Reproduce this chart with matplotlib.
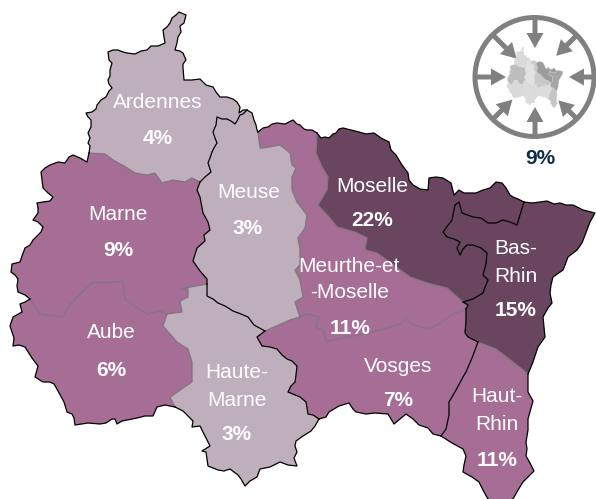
import numpy as np
import matplotlib
matplotlib.use('Agg')
import matplotlib.pyplot as plt
from matplotlib.patches import Polygon, Circle, FancyArrow

plt.rcParams['font.family'] = ['Liberation Sans', 'DejaVu Sans']

# map boundaries in pixels (x, y)
ard_north = [(89,153),(90,146),(88,143),(90,138),(88,133),(91,127),(91,120),(88,117),(86,113),(92,112),(96,109),(97,105),(101,100),(106,97),(109,91),(112,88),(109,84),(108,80),(110,76),(110,70),(112,63),(109,60),(108,52),(113,50),(118,50),(123,52),(127,53),(135,54),(141,51),(147,50),(151,46),(158,46),(165,43),(164,37),(163,30),(167,27),(170,23),(172,18),(176,15),(179,12),(186,15),(185,19),(184,23),(180,26),(181,32),(178,37),(177,43),(175,50),(180,51),(183,53),(186,60),(183,64),(183,68),(184,80),(192,80),(200,79),(206,85),(213,87),(216,92),(220,97),(227,97),(233,99),(237,102),(240,107),(239,113),(243,110),(247,110)]
ard_meuse = [(247,110),(243,114),(240,115),(237,121),(235,124),(231,121),(227,119),(222,119),(217,117),(216,125),(213,132),(215,138),(217,143),(214,148),(212,152),(210,158),(208,163),(211,172),(205,177),(200,182)]
meuse_north = [(247,110),(252,113),(254,120),(256,125),(257,130),(258,132)]
ard_marne = [(200,182),(192,178),(185,182),(173,180),(162,183),(155,173),(147,175),(135,173),(124,166),(113,160),(105,154),(89,153)]
marne_west = [(89,153),(87,162),(80,158),(73,155),(69,157),(65,163),(58,162),(50,165),(45,168),(41,172),(42,180),(43,188),(48,193),(53,197),(50,201),(43,202),(37,203),(38,208),(38,213),(33,220),(38,222),(43,227),(41,232),(33,240),(30,245),(25,248),(22,256),(20,262),(12,264),(11,272),(15,275),(18,279),(17,286),(18,292),(25,295),(30,299)]
marne_aube = [(30,299),(40,314),(63,317),(68,307),(82,292),(93,282),(105,283),(123,281),(125,299),(137,308),(147,314),(160,311),(167,314)]
marne_hm = [(167,314),(182,312),(180,301),(188,297),(188,289),(180,289),(207,284)]
marne_meuse = [(200,182),(197,190),(200,197),(203,213),(208,222),(210,230),(204,235),(205,241),(197,248),(193,261),(200,271),(207,279),(207,284)]
meuse_hm = [(207,284),(207,296),(213,299),(218,303),(225,306),(233,311),(241,314),(248,317),(254,325),(265,331)]
hm_vosges = [(265,331),(257,337),(262,346),(270,347),(277,349),(282,355),(287,359),(292,361),(297,366),(296,375),(295,382),(291,386),(288,392),(300,397),(306,402),(307,408),(308,414),(313,415),(319,419)]
hm_south = [(319,419),(315,426),(311,431),(303,436),(296,441),(295,446),(297,452),(294,458),(297,466),(288,465),(280,462),(270,467),(260,469),(257,477),(250,481),(245,486),(241,479),(238,475),(230,469),(224,471),(218,470),(208,466),(207,459),(206,452),(202,451),(210,446),(206,438),(200,426),(192,427),(193,421),(188,416),(183,411),(175,407)]
aube_south = [(175,407),(165,405),(157,407),(153,416),(145,416),(137,418),(122,421),(117,424),(115,419),(112,419),(106,423),(100,424),(88,423),(75,425),(74,418),(72,414),(67,412),(64,402),(58,391),(54,384),(50,382),(43,382),(35,377),(38,366),(32,358),(25,347),(19,345),(13,346),(14,338),(10,326),(13,317),(22,312),(20,304),(25,302),(30,299)]
aube_hm = [(167,314),(163,326),(177,342),(188,349),(192,362),(192,382),(170,397),(175,407)]
meuse_meurthe = [(258,132),(260,148),(263,148),(280,145),(290,153),(292,165),(296,168),(292,177),(292,190),(297,202),(307,215),(305,228),(298,238),(300,250),(300,265),(295,270),(300,280),(303,297),(295,302),(300,317)]
meuse_vosges = [(300,317),(290,320),(265,331)]
meurthe_north = [(258,132),(263,128),(268,127),(272,124),(277,123),(285,124),(293,120),(297,124),(300,125),(304,129),(307,130),(312,130),(317,133)]
moselle_north = [(317,133),(321,138),(325,137),(329,138),(333,134),(336,133),(339,129),(343,128),(351,130),(359,132),(366,134),(374,133),(381,138),(389,142),(391,150),(396,155),(402,165),(408,173),(409,180),(413,185),(420,189),(428,190),(429,178),(436,177),(443,178),(451,183),(454,195),(459,190),(464,193),(469,193),(476,193),(483,190),(490,188),(496,182),(502,183),(506,188),(510,195),(513,197),(518,199),(524,202)]
meurthe_moselle = [(317,133),(316,153),(322,167),(328,177),(327,190),(318,205),(330,218),(337,227),(355,232),(367,238),(365,250),(377,253),(410,277),(427,283),(447,288),(463,302)]
basrhin_moselle = [(524,202),(520,215),(517,225),(510,222),(503,220),(496,223),(488,223),(481,218),(473,217),(462,213),(459,202),(455,205),(452,220),(443,232),(447,237),(454,239),(460,242),(457,248),(460,255),(463,249),(467,245),(473,245),(481,248),(487,253),(486,264),(483,275),(488,280),(485,287),(483,293),(473,299),(463,302)]
basrhin_meurthe = [(463,302),(468,305),(466,309)]
basrhin_vosges = [(466,309),(466,320),(465,333),(468,337),(478,342)]
meurthe_vosges = [(466,309),(453,314),(439,324),(429,329),(411,324),(406,317),(401,324),(376,331),(349,337),(341,338),(326,342),(324,331),(316,327),(319,317),(306,314),(300,317)]
vosges_south = [(319,419),(326,417),(329,412),(339,406),(349,403),(353,409),(356,412),(366,414),(375,413),(388,414),(394,424),(400,419),(406,414),(413,419),(419,425),(428,428),(433,434),(441,436)]
vosges_hrhin = [(478,342),(472,358),(466,372),(463,377),(456,390),(449,402),(449,415),(446,429),(441,436)]
brhin_hrhin = [(478,342),(496,349),(513,362),(528,374)]
brhin_east = [(524,202),(532,203),(540,202),(547,201),(554,204),(560,203),(566,205),(573,205),(583,210),(595,213),(590,222),(587,230),(582,243),(577,250),(568,257),(565,265),(563,270),(553,277),(551,285),(550,293),(552,303),(548,308),(543,317),(544,327),(545,337),(538,347),(533,362),(528,374)]
hrhin_outer = [(441,436),(452,443),(463,449),(466,456),(464,465),(463,472),(472,477),(479,482),(484,492),(488,499),(500,505),(513,499),(518,490),(523,482),(534,471),(530,463),(526,456),(527,449),(526,442),(528,430),(528,419),(533,401),(528,392),(528,374)]

black_lines = [ard_north, ard_meuse, meuse_north, marne_west, marne_meuse, meuse_hm, hm_vosges, hm_south,
               aube_south, meurthe_north, moselle_north, basrhin_moselle, basrhin_meurthe, basrhin_vosges,
               vosges_south, vosges_hrhin, brhin_east, hrhin_outer]
gray_lines = [ard_marne, marne_aube, marne_hm, aube_hm, meuse_meurthe, meuse_vosges, meurthe_moselle,
              meurthe_vosges, brhin_hrhin]

def join(*parts):
    pts = []
    for p in parts:
        pts += p
    return pts

# outlines of the departments, from the boundaries above
ardennes = join(ard_north, ard_meuse, ard_marne)
marne = join(marne_west, marne_aube, marne_hm, marne_meuse[::-1], ard_marne)
aube = join(marne_aube, aube_hm, aube_south)
haute_marne = join(marne_hm, meuse_hm, hm_vosges, hm_south, aube_hm[::-1])
meuse = join(meuse_north, meuse_meurthe, meuse_vosges, meuse_hm[::-1], marne_meuse[::-1], ard_meuse[::-1])
meurthe = join(meurthe_north, meurthe_moselle, basrhin_meurthe, meurthe_vosges, meuse_meurthe[::-1])
moselle = join(moselle_north, basrhin_moselle, meurthe_moselle[::-1])
vosges = join(meuse_vosges, hm_vosges, vosges_south, vosges_hrhin[::-1], basrhin_vosges[::-1], meurthe_vosges)
bas_rhin = join(brhin_east, brhin_hrhin[::-1], basrhin_vosges[::-1], basrhin_meurthe[::-1], basrhin_moselle[::-1])
haut_rhin = join(brhin_hrhin, hrhin_outer[::-1], vosges_hrhin[::-1])

shapes = [ardennes, marne, aube, haute_marne, meuse, meurthe, moselle, vosges, bas_rhin, haut_rhin]
light, mid, dark = '#bfaebc', '#a66d95', '#69455f'
shape_colors = [light, mid, mid, light, light, mid, dark, mid, dark, mid]
mini_colors = ['#dadada', '#bdbdbd', '#dadada', '#dcdcdc', '#e2e2e2', '#c9c9c9', '#9c9c9c', '#dcdcdc', '#a6a6a6', '#c6c6c6']

# labels: (line of text, x, y)
names = [('Ardennes',158,102),('Meuse',249,193),('Marne',118,215),('Moselle',372,186),('Bas-',516,248),('Rhin',516,276),
         ('Meurthe-et',349,266),('-Moselle',350,293),('Aube',111,333),('Haute-',237,372),('Marne',237,400),
         ('Vosges',398,366),('Haut-',497,397),('Rhin',497,424)]
shares = [('4%',158,138),('3%',248,229),('9%',118,251),('22%',372,221),('15%',516,311),('11%',350,329),
          ('6%',111,370),('3%',237,435),('7%',398,401),('11%',497,461)]

# inset: compass
center = (535, 77)
angles = [90, 45, 0, -45, -90, -135, 180, 135]
tip_radius = [29, 30, 34, 33, 30, 32, 29, 26]

fig = plt.figure(figsize=(5.96, 4.99), dpi=100)
ax = fig.add_axes([0, 0, 1, 1])
ax.set_xlim(0, 596)
ax.set_ylim(499, 0)
ax.axis('off')

for pts, c in zip(shapes, shape_colors):
    ax.add_patch(Polygon(pts, closed=True, facecolor=c, edgecolor='none', zorder=1))
for line in gray_lines:
    xs, ys = zip(*line)
    ax.plot(xs, ys, color='#7f7580', lw=0.9, zorder=2)
for line in black_lines:
    xs, ys = zip(*line)
    ax.plot(xs, ys, color='black', lw=0.9, zorder=3)

for txt, x, y in names:
    ax.text(x, y, txt, color='white', fontsize=15, ha='center', va='center', zorder=5)
for txt, x, y in shares:
    ax.text(x, y, txt, color='white', fontsize=15, fontweight='bold', ha='center', va='center', zorder=5)

ax.add_patch(Circle((534.5, 77), 59.5, facecolor='white', edgecolor='#808080', lw=3.6, zorder=6))
for a, r in zip(angles, tip_radius):
    dx, dy = np.cos(np.radians(a)), -np.sin(np.radians(a))
    sx, sy = center[0] + 59 * dx, center[1] + 59 * dy
    ax.add_patch(FancyArrow(sx, sy, (r - 59) * dx, (r - 59) * dy, width=5, head_width=17, head_length=15,
                            length_includes_head=True, facecolor='#808080', edgecolor='none', zorder=7))
for pts, c in zip(shapes, mini_colors):
    arr = np.array(pts, dtype=float)
    mx = 507 + (arr[:, 0] - 10) * 0.096
    my = 47 + (arr[:, 1] - 12) * 0.123
    ax.add_patch(Polygon(np.column_stack([mx, my]), closed=True, facecolor=c, edgecolor='#d0d0d0', lw=0.2, zorder=8))
ax.text(540, 158, '9%', color='#0f2d4a', fontsize=15, fontweight='bold', ha='center', va='center', zorder=8)

fig.savefig('out.png', dpi=100)
